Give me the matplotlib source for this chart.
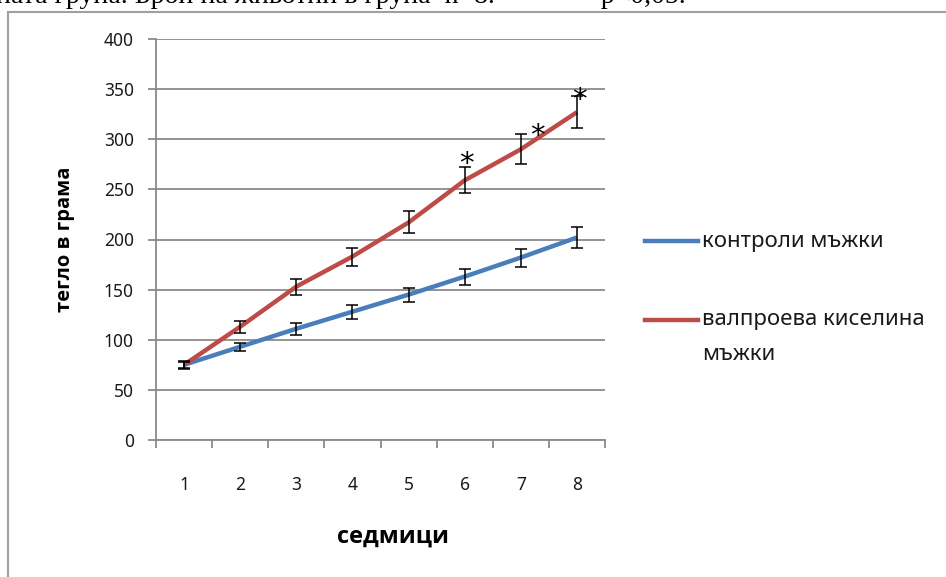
import numpy as np
import matplotlib.pyplot as plt
from matplotlib.lines import Line2D
from matplotlib.patches import Rectangle

plt.rcParams['font.family'] = ['Noto Sans', 'DejaVu Sans']
BOLD_FONT = ['Open Sans', 'DejaVu Sans']

# телесна маса по седмици (средно ± SEM)
weeks = [1, 2, 3, 4, 5, 6, 7, 8]
week_labels = ['1', '2', '3', '4', '5', '6', '7', '8']
control = [75, 93, 111, 128, 145, 163, 182, 202]
control_err = [3, 4, 6, 7, 7, 8, 9, 10]
vpa = [75, 113, 153, 183, 217, 259, 290, 327]
vpa_err = [4, 6, 8, 9, 11, 13, 15, 16]
signif_idx = [5, 6, 7]          # седмици 6, 7, 8 (p<0,05)
star_shift = [(1, -8), (12, -11), (2, -13)]

series_names = ['контроли мъжки', 'валпроева киселина\nмъжки']
blue = '#4a7ebb'
red = '#be4b48'
grid_c = '#8a8a8a'

W, H = 946, 577
fig = plt.figure(figsize=(W / 100, H / 100), dpi=100)

# рамка на диаграмата
fig.add_artist(Rectangle((8 / W, -0.1), 1.2, 1 - 12 / H + 0.1, transform=fig.transFigure,
                         fill=False, edgecolor='#a0a0a0', lw=1.5))

# текст от документа над диаграмата (отрязан отгоре)
fig.text(-0.004, 1 - 3 / H, 'ната група. Брой на животни в група  n=8.',
         family='Liberation Serif', fontsize=20, va='baseline', color='black')
fig.text(580 / W, 1 - 3 / H, '* p<0,05.',
         family='Liberation Serif', fontsize=20, va='baseline', color='black')

ax = fig.add_axes([156 / W, 1 - 440 / H, 449 / W, 401 / H])

ax.plot(weeks, control, color=blue, lw=3.2, solid_capstyle='butt', zorder=3)
ax.plot(weeks, vpa, color=red, lw=3.2, solid_capstyle='butt', zorder=3)
ax.errorbar(weeks, control, yerr=control_err, fmt='none', ecolor='black',
            elinewidth=1.1, capsize=4, capthick=1.1, zorder=4)
ax.errorbar(weeks, vpa, yerr=vpa_err, fmt='none', ecolor='black',
            elinewidth=1.1, capsize=4, capthick=1.1, zorder=4)

for i, (dx, dy) in zip(signif_idx, star_shift):
    ax.annotate('*', xy=(weeks[i], vpa[i] + vpa_err[i]), xytext=(dx, dy),
                textcoords='offset points', ha='center', va='bottom',
                fontsize=21, family='DejaVu Sans', zorder=5)

ax.set_xlim(0.5, 8.5)
ax.set_ylim(0, 400)
ax.set_yticks(np.arange(0, 401, 50))
ax.yaxis.grid(True, color=grid_c, lw=1.3)
ax.set_axisbelow(True)

ax.set_xticks(weeks)
ax.set_xticklabels(week_labels)
ax.set_xticks(np.arange(0.5, 9, 1), minor=True)
ax.tick_params(axis='x', which='major', length=0, pad=26, labelsize=12.5, labelcolor='#1a1a1a')
ax.tick_params(axis='x', which='minor', length=6, width=1.3, color=grid_c)
ax.tick_params(axis='y', length=6, width=1.3, color=grid_c, pad=10,
               labelsize=12.5, labelcolor='#1a1a1a')

for s in ['top', 'right']:
    ax.spines[s].set_visible(False)
for s in ['left', 'bottom']:
    ax.spines[s].set_color(grid_c)
    ax.spines[s].set_linewidth(1.3)

ax.set_xlabel('седмици', fontsize=17, fontweight='bold', family=BOLD_FONT)
ax.xaxis.set_label_coords(0.528, -0.21)
ax.set_ylabel('тегло в грама', fontsize=14.5, fontweight='bold', family=BOLD_FONT,
              labelpad=21)

# легенда
leg_y = [241, 320]
for name, c, y in zip(series_names, [blue, red], leg_y):
    fig.add_artist(Line2D([645 / W, 698 / W], [1 - y / H] * 2, color=c, lw=3.2,
                          transform=fig.transFigure))
    lines = name.split('\n')
    for k, t in enumerate(lines):
        fig.text(702 / W, 1 - (y + 35 * k) / H, t, fontsize=16, va='center',
                 ha='left', color='#1a1a1a')

fig.savefig('out.png', dpi=100)
